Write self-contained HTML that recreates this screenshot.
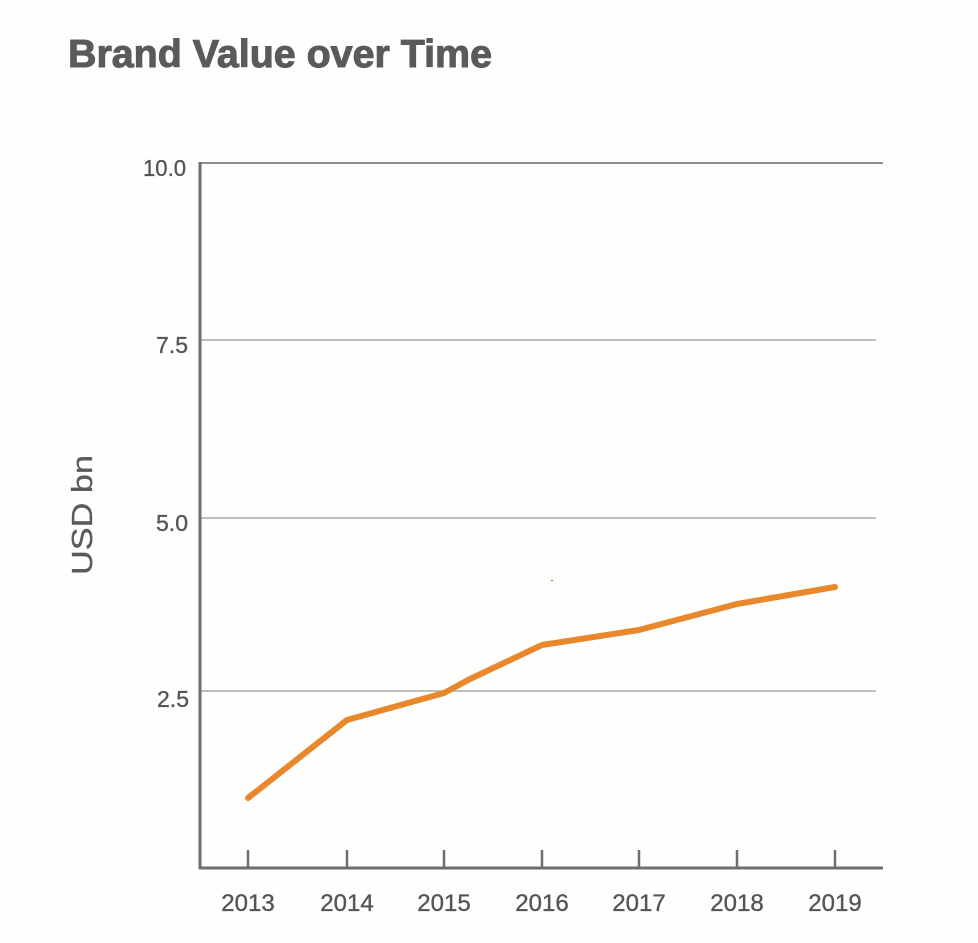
<!DOCTYPE html>
<html>
<head>
<meta charset="utf-8">
<style>
  html, body { margin: 0; padding: 0; background: #fefefc; }
  body { width: 978px; height: 943px; overflow: hidden; }
  svg { display: block; }
  text { font-family: "Liberation Sans", Arial, sans-serif; }
</style>
</head>
<body>
<svg width="978" height="943" viewBox="0 0 978 943" xmlns="http://www.w3.org/2000/svg">
  <rect x="0" y="0" width="978" height="943" fill="#fefefc"/>

  <!-- Title -->
  <text x="68" y="67" font-size="39" font-weight="bold" fill="#5a5a5c" stroke="#5a5a5c" stroke-width="1" textLength="424" lengthAdjust="spacingAndGlyphs">Brand Value over Time</text>

  <!-- Grid lines -->
  <line x1="200" y1="163" x2="883" y2="163" stroke="#8e8e8e" stroke-width="2"/>
  <line x1="200" y1="340" x2="876" y2="340" stroke="#a8a8a8" stroke-width="1.5"/>
  <line x1="200" y1="518" x2="876" y2="518" stroke="#a8a8a8" stroke-width="1.5"/>
  <line x1="200" y1="691" x2="876" y2="691" stroke="#a8a8a8" stroke-width="1.5"/>

  <!-- Axes -->
  <line x1="200" y1="162" x2="200" y2="869" stroke="#6e6e6e" stroke-width="3"/>
  <line x1="199" y1="868" x2="883" y2="868" stroke="#6e6e6e" stroke-width="3"/>

  <!-- X ticks -->
  <g stroke="#6e6e6e" stroke-width="2.5">
    <line x1="248" y1="850" x2="248" y2="868"/>
    <line x1="347" y1="850" x2="347" y2="868"/>
    <line x1="444" y1="850" x2="444" y2="868"/>
    <line x1="542" y1="850" x2="542" y2="868"/>
    <line x1="639" y1="850" x2="639" y2="868"/>
    <line x1="737" y1="850" x2="737" y2="868"/>
    <line x1="835" y1="850" x2="835" y2="868"/>
  </g>

  <!-- Y labels -->
  <g font-size="23" fill="#555558" stroke="#555558" stroke-width="0.35" text-anchor="end">
    <text x="186" y="176" textLength="43" lengthAdjust="spacingAndGlyphs">10.0</text>
    <text x="188" y="353">7.5</text>
    <text x="188" y="531">5.0</text>
    <text x="189" y="707">2.5</text>
  </g>

  <!-- X labels -->
  <g font-size="24" fill="#555558" stroke="#555558" stroke-width="0.35" text-anchor="middle">
    <text x="248" y="911">2013</text>
    <text x="347" y="911">2014</text>
    <text x="444" y="911">2015</text>
    <text x="542" y="911">2016</text>
    <text x="639" y="911">2017</text>
    <text x="737" y="911">2018</text>
    <text x="835" y="911">2019</text>
  </g>

  <!-- Y axis title -->
  <text x="0" y="0" font-size="29" fill="#5a5a5c" stroke="#5a5a5c" stroke-width="0.3" text-anchor="middle" transform="translate(92,515) rotate(-90)" textLength="120" lengthAdjust="spacingAndGlyphs">USD bn</text>

  <!-- Series -->
  <polyline points="248,798 347,720 444,693 470,679 542,645 639,630 737,604 835,587"
            fill="none" stroke="#e8872c" stroke-width="6" stroke-linejoin="round" stroke-linecap="round"/>

  <!-- tiny artifact -->
  <rect x="551" y="580" width="2" height="1" fill="#d05040"/>
</svg>
</body>
</html>
